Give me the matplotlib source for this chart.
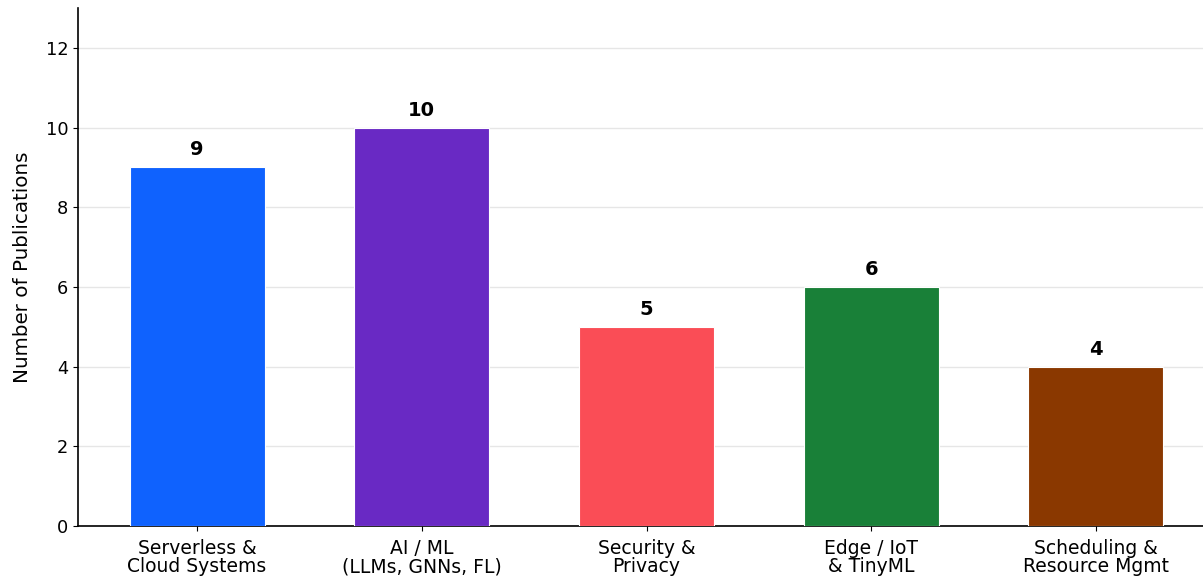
import matplotlib.pyplot as plt
import numpy as np

# Publication counts per research theme
categories = ["Serverless &\nCloud Systems", "AI / ML\n(LLMs, GNNs, FL)", "Security &\nPrivacy",
              "Edge / IoT\n& TinyML", "Scheduling &\nResource Mgmt"]
counts = [9, 10, 5, 6, 4]
colors = ["#0F62FE", "#6929C4", "#FA4D56", "#198038", "#8A3800"]

fig = plt.figure(figsize=(12.03, 5.79), dpi=100)
ax = fig.add_axes([78 / 1203, 53 / 579, 1137 / 1203, 518 / 579])

x = np.arange(len(categories))
bars = ax.bar(x, counts, width=0.6, color=colors, edgecolor="white", linewidth=0.8, zorder=3)

for b, v in zip(bars, counts):
    ax.text(b.get_x() + b.get_width() / 2, v + 0.2, str(v), ha="center", va="bottom",
            fontsize=14, fontweight="bold")

ax.set_xticks(x)
ax.set_xticklabels(categories, fontsize=13.5, linespacing=1.0)
ax.tick_params(axis="x", pad=5.5)
ax.set_ylim(0, 13)
ax.set_yticks([0, 2, 4, 6, 8, 10, 12])
ax.tick_params(axis="y", labelsize=12.8)
ax.set_ylabel("Number of Publications", fontsize=14.3, labelpad=10)
ax.grid(axis="y", color="#e6e6e6", linewidth=1, zorder=0)
ax.spines["top"].set_visible(False)
ax.spines["right"].set_visible(False)
ax.spines["left"].set_linewidth(1.2)
ax.spines["bottom"].set_linewidth(1.2)

fig.savefig("out.png", dpi=100)
